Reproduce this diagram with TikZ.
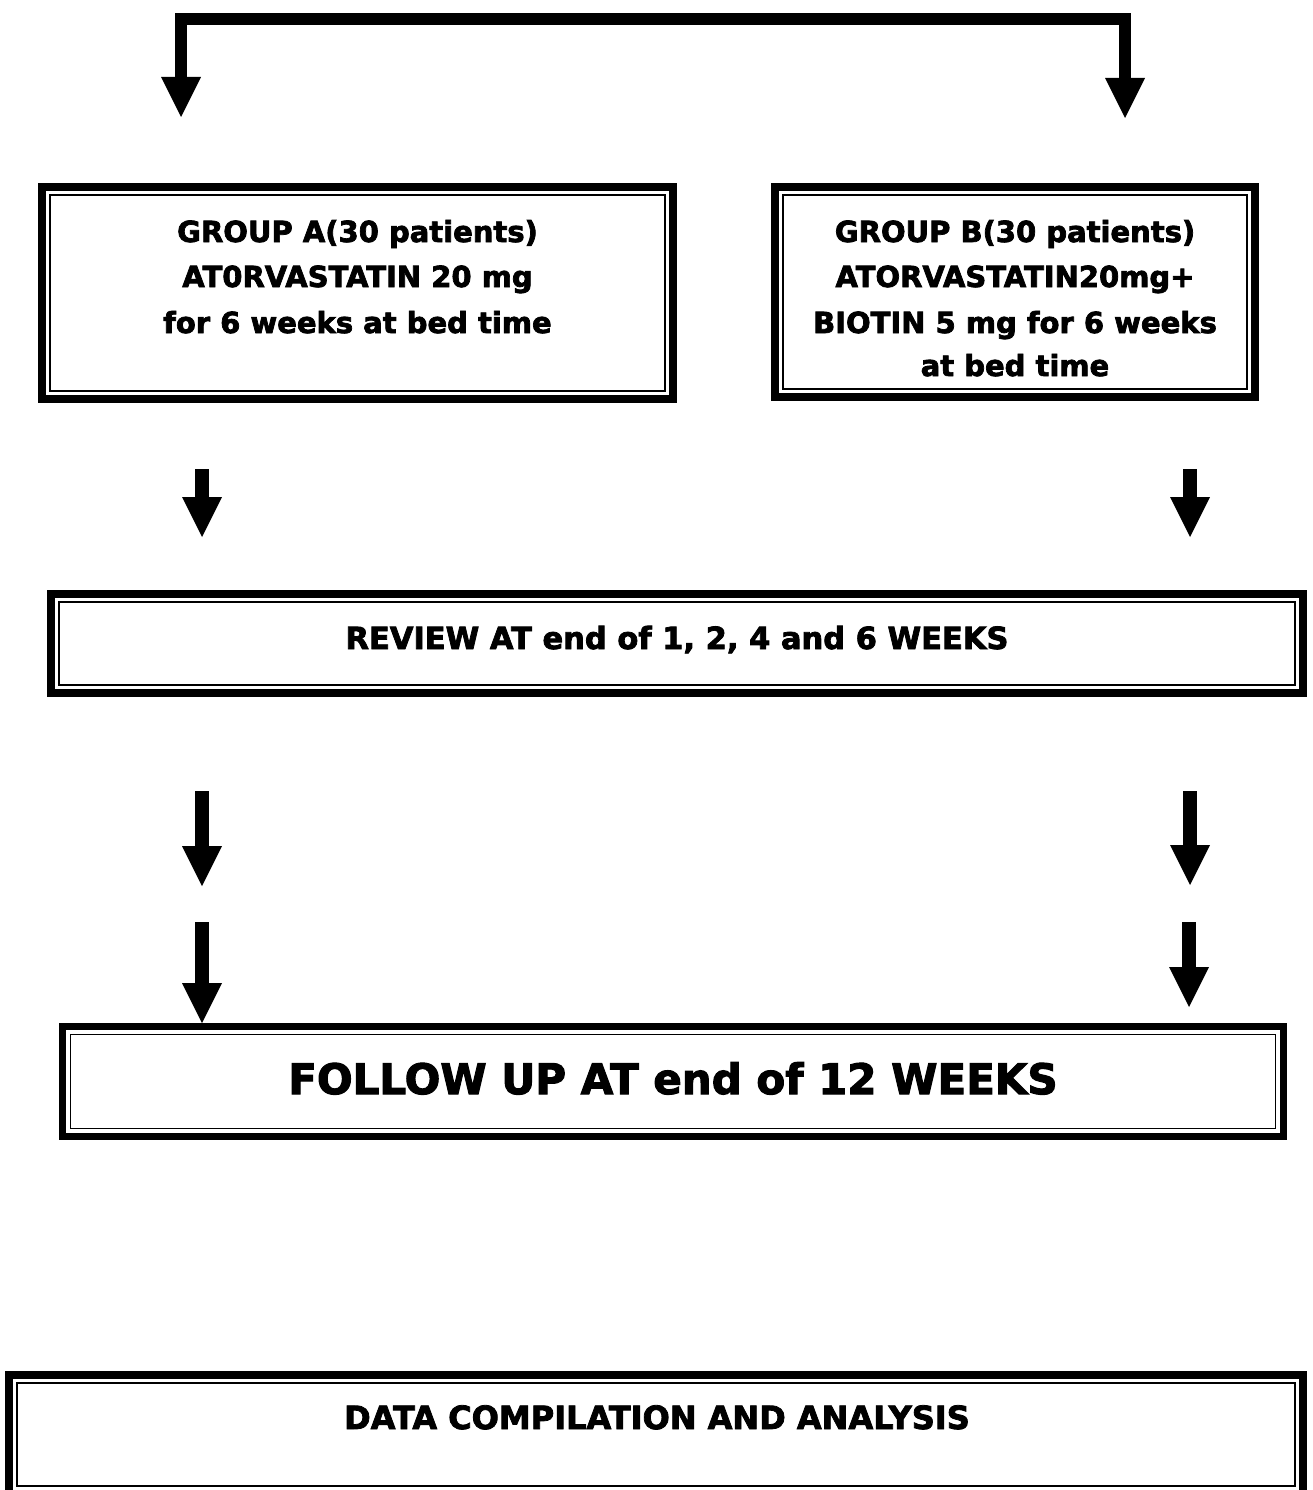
\documentclass[tikz,border=0pt]{standalone}
\usepackage{fontspec}
\setmainfont{DejaVu Sans}[BoldFeatures={FakeBold=2.5}]
\usetikzlibrary{arrows.meta}
\tikzset{
  dbox/.style={draw, line width=8.5pt, inner sep=0pt, line join=miter,
    path picture={\draw[line width=1.8pt]
      ([shift={(8pt,-8pt)}]path picture bounding box.north west) rectangle
      ([shift={(-8pt,8pt)}]path picture bounding box.south east);}},
  txtm/.style={anchor=base, inner sep=0pt, font=\bfseries\fontsize{29}{34}\selectfont},
  txtr/.style={anchor=base, inner sep=0pt, font=\bfseries\fontsize{30.5}{36}\selectfont},
  txtf/.style={anchor=base, inner sep=0pt, font=\bfseries\fontsize{42}{50}\selectfont},
  txtd/.style={anchor=base, inner sep=0pt, font=\bfseries\fontsize{32}{38}\selectfont},
  barrow/.style={line width=14pt, -{Triangle[length=40pt, width=40pt, line width=0pt]}},
  tarrow/.style={line width=12.5pt, line join=miter,
    {Triangle[length=40pt, width=40pt, line width=0pt]}-{Triangle[length=40pt, width=40pt, line width=0pt]}}
}
\begin{document}
\begin{tikzpicture}[x=1pt, y=-1pt]
\useasboundingbox (0,0) rectangle (1312,1490);
\fill[white] (0,0) rectangle (1312,1490);

% boxes
\node[dbox, minimum width=631pt, minimum height=212pt] (boxA) at (357.5,293) {};
\node[dbox, minimum width=480pt, minimum height=210pt] (boxB) at (1015,292) {};
\node[dbox, minimum width=1252pt, minimum height=99pt] (review) at (677,643.5) {};
\node[dbox, line width=7pt, minimum width=1221pt, minimum height=110pt] (follow) at (673,1081.5) {};
\node[dbox, minimum width=1294pt, minimum height=119pt] (data) at (656,1434.5) {};

% texts
\node[txtm] (a1) at (357.5,242) {GROUP A(30 patients)};
\node[txtm] (a2) at (357.5,287) {AT0RVASTATIN 20 mg};
\node[txtm] (a3) at (357.5,333) {for 6 weeks at bed time};
\node[txtm] (b1) at (1015,242) {GROUP B(30 patients)};
\node[txtm] (b2) at (1015,287) {ATORVASTATIN20mg+};
\node[txtm] (b3) at (1015,333) {BIOTIN 5 mg for 6 weeks};
\node[txtm] (b4) at (1015,376) {at bed time};
\node[txtr] (rt) at (677,649) {REVIEW AT end of 1, 2, 4 and 6 WEEKS};
\node[txtf] (ft) at (673,1094) {FOLLOW UP AT end of 12 WEEKS};
\node[txtd] (dt) at (657,1429) {DATA COMPILATION AND ANALYSIS};

% top split connector
\coordinate (tipL) at (181,117);
\coordinate (cornL) at (181,19);
\coordinate (cornR) at (1125,19);
\coordinate (tipR) at (1125,118);
\draw[tarrow] (tipL) -- (cornL) -- (cornR) -- (tipR);

% arrow row 1
\coordinate (r1ls) at (202,469);
\coordinate (r1le) at (202,537);
\coordinate (r1rs) at (1190,469);
\coordinate (r1re) at (1190,537);
\draw[barrow] (r1ls) -- (r1le);
\draw[barrow] (r1rs) -- (r1re);

% arrow row 2
\coordinate (r2ls) at (202,791);
\coordinate (r2le) at (202,886);
\coordinate (r2rs) at (1190,791);
\coordinate (r2re) at (1190,885);
\draw[barrow] (r2ls) -- (r2le);
\draw[barrow] (r2rs) -- (r2re);

% arrow row 3
\coordinate (r3ls) at (202,922);
\coordinate (r3rs) at (1189,922);
\coordinate (r3re) at (1189,1007);
\draw[barrow] (r3ls) -- (follow.north -| r3ls);
\draw[barrow] (r3rs) -- (r3re);
\end{tikzpicture}
\end{document}
